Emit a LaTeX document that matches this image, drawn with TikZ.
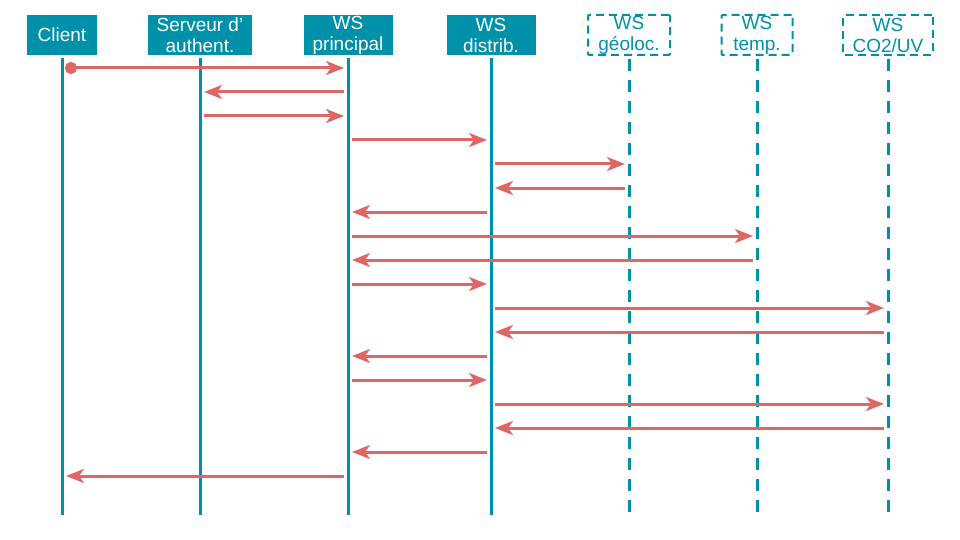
\documentclass[tikz,border=0pt]{standalone}
\usepackage{fontspec}
\setmainfont{Liberation Sans}
\usetikzlibrary{arrows.meta, positioning, calc}
\definecolor{teal}{RGB}{0,145,170}
\definecolor{msgred}{RGB}{224,102,102}
\tikzstyle{msg}       = [draw=msgred, line width=3pt, -{Stealth[length=18pt, width=14pt, inset=5pt]}, shorten <=4pt, shorten >=4pt]

\begin{document}
\begin{tikzpicture}[
                x=1pt, y=-1pt,
                actor/.style={
                    fill=teal,
                    text=white,
                    minimum height=40pt,
                    inner sep=0pt,
                    align=center
                },
                ext/.style={
                    draw=teal,
                    line width=2pt,
                    dash pattern=on 8pt off 5pt,
                    rounded corners=1pt,
                    text=teal,
                    minimum height=40pt,
                    inner sep=0pt,
                    align=center
                },
                life/.style={
                    draw=teal,
                    line width=3pt
                },
                extlife/.style={
                    life,
                    dash pattern=on 12pt off 9pt
                },
                every node/.style={font=\fontsize{19}{21}\selectfont}
            ]
                \useasboundingbox (0,0) rectangle (960,540);

                % participants
                \node[actor, minimum width=70pt] (cl) at (62,35) {Client};
                \node[actor, minimum width=104pt] (sa) at (200,35) {Serveur d'\\authent.};
                \node[actor, minimum width=89pt] (wp) at (348,35) {WS\\principal};
                \node[actor, minimum width=89pt] (wd) at (491,35) {WS\\distrib.};
                \node[ext, minimum width=82pt] (wg) at (629,35) {WS\\géoloc.};
                \node[ext, minimum width=71pt] (wt) at (757,35) {WS\\temp.};
                \node[ext, minimum width=90pt] (wc) at (888,35) {WS\\CO2/UV};

                % lifelines
                \foreach \p in {cl, sa, wp, wd}
                    \draw[life] ([yshift=-3pt]\p.south) -- (\p |- 0,515);
                \foreach \p in {wg, wt, wc}
                    \draw[extlife] ([yshift=-3pt]\p.south) -- (\p |- 0,515);

                % messages
                \draw[msg, {Circle[length=12pt]}-{Stealth[length=18pt, width=14pt, inset=5pt]}, shorten <=3pt] (cl |- 0,68) -- (wp |- 0,68);
                \foreach \y/\a/\b in {92/wp/sa, 116/sa/wp, 140/wp/wd, 164/wd/wg, 188/wg/wd,
                                      212/wd/wp, 236/wp/wt, 260/wt/wp, 284/wp/wd, 308/wd/wc,
                                      332/wc/wd, 356/wd/wp, 380/wp/wd, 404/wd/wc, 428/wc/wd,
                                      452/wd/wp, 476/wp/cl}
                    \draw[msg] (\a |- 0,\y) -- (\b |- 0,\y);
            \end{tikzpicture}
\end{document}
